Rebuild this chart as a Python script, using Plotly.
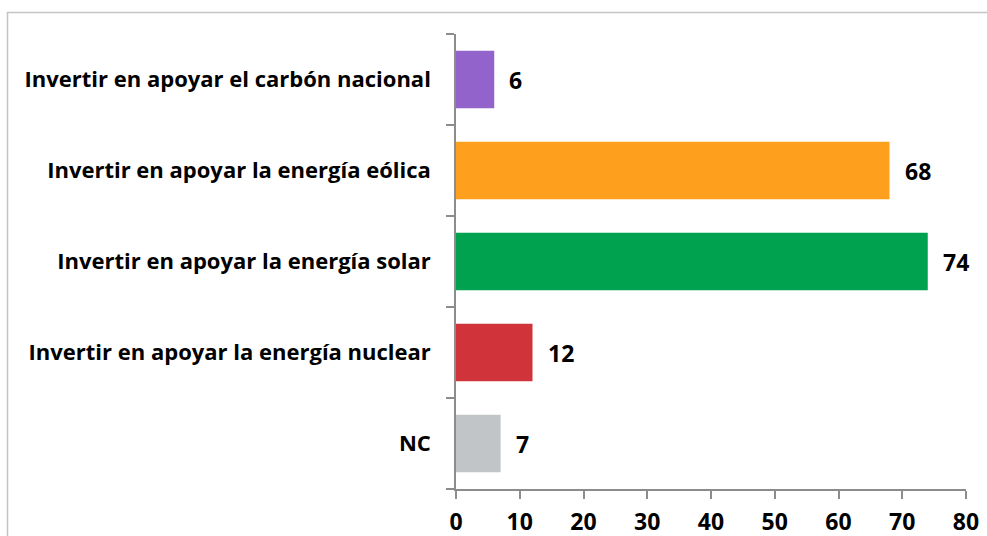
import plotly.graph_objects as go

categories = [
    "NC",
    "Invertir en apoyar la energía nuclear",
    "Invertir en apoyar la energía solar",
    "Invertir en apoyar la energía eólica",
    "Invertir en apoyar el carbón nacional",
]
values = [7, 12, 74, 68, 6]
colors = ["#C2C5C7", "#D0343A", "#00A14F", "#FF9F1E", "#9264CB"]
x_ticks = [0, 10, 20, 30, 40, 50, 60, 70, 80]

W, H = 987, 536
L, R, T, B = 456, 21, 34, 47
pw, ph = W - L - R, H - T - B

fig = go.Figure(
    go.Bar(
        x=values,
        y=categories,
        orientation="h",
        marker=dict(color=colors, line=dict(width=0)),
        hoverinfo="skip",
    )
)

font = "'Open Sans', sans-serif"

# value labels to the right of each bar
for v, c in zip(values, categories):
    fig.add_annotation(
        x=v, y=c, text=f"<b>{v}</b>", showarrow=False,
        xanchor="left", yanchor="middle", xshift=13,
        font=dict(family=font, size=23, color="#000000"),
    )

# outer chart frame
def px_x(p):
    return (p - L) / pw

def px_y(p):
    return (H - B - p) / ph

fig.add_shape(
    type="rect", xref="paper", yref="paper",
    x0=px_x(7.5), x1=px_x(1000), y0=px_y(12.5), y1=px_y(560),
    line=dict(color="#C4C4C4", width=1.5), fillcolor="rgba(0,0,0,0)", layer="below",
)

fig.update_layout(
    width=W, height=H,
    margin=dict(l=L, r=R, t=T, b=B, pad=0, autoexpand=False),
    paper_bgcolor="white", plot_bgcolor="white",
    bargap=0.37, showlegend=False,
    font=dict(family=font, size=20, color="#000000"),
)
fig.update_xaxes(
    range=[0, 80], tickvals=x_ticks, ticktext=[f"<b>{t}</b>" for t in x_ticks],
    showgrid=False, zeroline=False, showline=True, linecolor="#8C8C8C", linewidth=1.5,
    ticks="outside", ticklen=8, tickcolor="#8C8C8C", tickwidth=1.5,
    ticklabelstandoff=4, automargin=False,
    tickfont=dict(family=font, size=23, color="#000000"),
)
fig.update_yaxes(
    categoryorder="array", categoryarray=categories,
    tickvals=categories, ticktext=[f"<b>{c}</b>" for c in categories],
    showgrid=False, zeroline=False, showline=True, linecolor="#8C8C8C", linewidth=1.5,
    ticks="outside", ticklen=8, tickcolor="#8C8C8C", tickwidth=1.5, tickson="boundaries",
    ticklabelstandoff=19, automargin=False,
    tickfont=dict(family=font, size=22, color="#000000"),
)

fig.write_html("out.html")
